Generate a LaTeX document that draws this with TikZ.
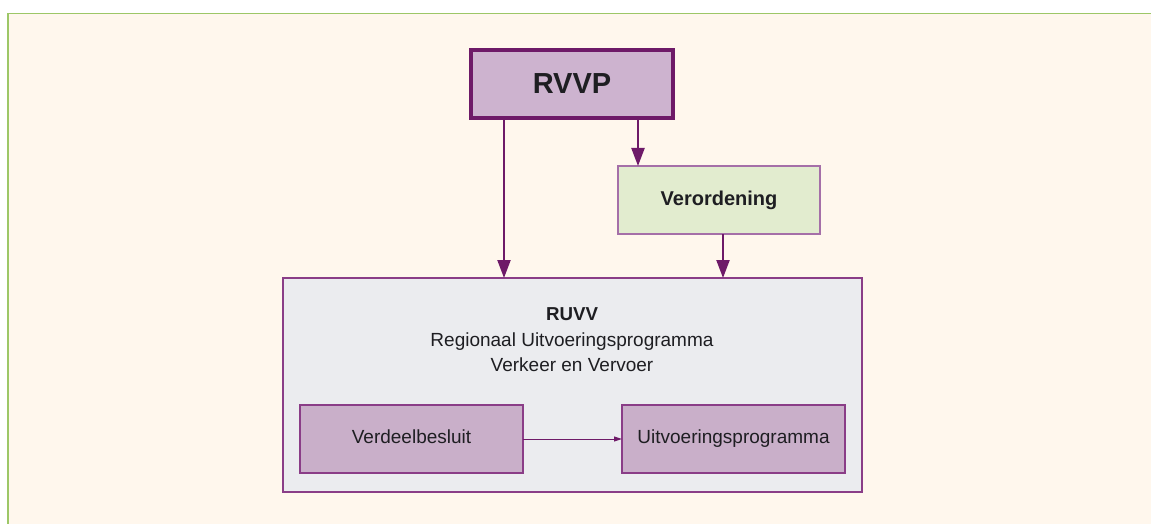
\documentclass[tikz,border=0pt]{standalone}
\usepackage{fontspec}
\setmainfont{Liberation Sans}
\usetikzlibrary{arrows.meta}
\definecolor{cream}{HTML}{FFF7ED}
\definecolor{frameg}{HTML}{9DC767}
\definecolor{plumD}{HTML}{6E1A68}
\definecolor{plumM}{HTML}{8A3D87}
\definecolor{plumL}{HTML}{A56FA8}
\definecolor{lilac}{HTML}{CDB3CF}
\definecolor{lilac2}{HTML}{C9AFC9}
\definecolor{mint}{HTML}{E2ECCF}
\definecolor{greyb}{HTML}{EBECEF}
\definecolor{ink}{HTML}{1E1E22}
\tikzset{
  box/.style={rectangle, inner sep=0pt, outer sep=0pt, text=ink},
  inner/.style={box, draw=plumM, line width=1.3pt, fill=lilac2, minimum width=223pt, minimum height=68pt,
    font=\fontsize{19}{23}\selectfont, text height=13.6pt, text depth=4pt},
  arr/.style={draw=plumD, line width=2.2pt, -{Triangle[width=13pt,length=18pt]}},
  smallarr/.style={draw=plumD, line width=1pt, -{Triangle[width=5pt,length=8pt]}},
}
\begin{document}
\begin{tikzpicture}[x=1pt,y=-1pt]
\useasboundingbox (0,0) rectangle (1151,524);
\fill[white] (0,0) rectangle (1151,524);
\fill[cream] (8,13.5) rectangle (1151,524);
\draw[frameg, line width=1.5pt] (8,524) -- (8,13.5) -- (1151,13.5);

\node[box, draw=plumD, line width=4pt, fill=lilac, minimum width=202pt, minimum height=68pt,
  font=\fontsize{29}{34}\selectfont\bfseries] (rvvp) at (572,84) {RVVP};
\node[box, draw=plumL, line width=1.3pt, fill=mint, minimum width=202pt, minimum height=68pt,
  font=\fontsize{20}{24}\selectfont\bfseries] (ver) at (719,200) {Verordening};
\node[box, draw=plumM, line width=1.3pt, fill=greyb, minimum width=579pt, minimum height=214pt] (ruvv) at (572.5,385) {};
\node[box, align=center, font=\fontsize{19}{25.5}\selectfont] (ruvvtxt) at (572,340)
  {{\fontsize{18.7}{25.5}\selectfont\bfseries RUVV}\\Regionaal Uitvoeringsprogramma\\Verkeer en Vervoer};
\node[inner] (vdb) at (411.5,439) {Verdeelbesluit};
\node[inner] (uvp) at (733.5,439) {Uitvoeringsprogramma};

\coordinate (xa) at (504,0);
\coordinate (xb) at (638,0);
\coordinate (xc) at (723,0);
\draw[arr] (rvvp.south -| xa) -- (ruvv.north -| xa);
\draw[arr] (rvvp.south -| xb) -- (ver.north -| xb);
\draw[arr] (ver.south -| xc) -- (ruvv.north -| xc);
\draw[smallarr] (vdb.east) -- (uvp.west);
\end{tikzpicture}
\end{document}
